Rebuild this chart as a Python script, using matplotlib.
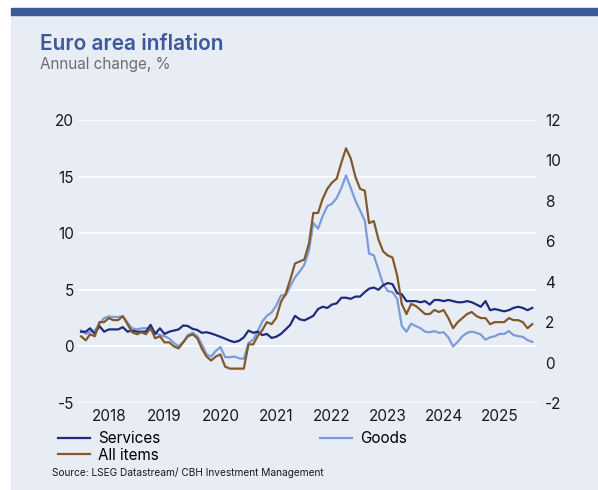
import numpy as np
import pandas as pd
import matplotlib
matplotlib.use("Agg")
import matplotlib.pyplot as plt
from matplotlib.patches import Rectangle

# monthly data, Jan 2018 - Feb 2026
start_month = "2018-01-01"

services = [
    1.3, 1.3, 1.6, 1.1, 1.8, 1.3, 1.5, 1.5, 1.5, 1.7, 1.3, 1.4,
    1.3, 1.3, 1.3, 1.9, 1.1, 1.6, 1.1, 1.3, 1.4, 1.5, 1.85, 1.8,
    1.55, 1.45, 1.2, 1.25, 1.15, 1.0, 0.85, 0.68, 0.5, 0.38, 0.5, 0.8,
    1.4, 1.2, 1.3, 1.0, 1.1, 0.75, 0.85, 1.1, 1.5, 1.9, 2.7, 2.4,
    2.3, 2.5, 2.7, 3.3, 3.5, 3.4, 3.7, 3.8, 4.3, 4.3, 4.2, 4.4,
    4.4, 4.8, 5.1, 5.2, 5.0, 5.4, 5.6, 5.5, 4.7, 4.6, 4.0, 4.0,
    4.0, 3.9, 4.0, 3.7, 4.1, 4.1, 4.0, 4.1, 4.0, 3.9, 3.9, 4.0,
    3.9, 3.7, 3.5, 4.0, 3.2, 3.3, 3.2, 3.1, 3.2, 3.4, 3.5, 3.4,
    3.2, 3.4,
]

goods = [
    1.4, 1.1, 1.3, 1.4, 2.0, 2.5, 2.65, 2.6, 2.6, 2.65, 2.1, 1.6,
    1.5, 1.6, 1.6, 1.6, 1.2, 1.0, 0.9, 0.7, 0.3, 0.0, 0.4, 1.0,
    1.2, 0.9, 0.2, -0.7, -0.9, -0.4, -0.05, -0.95, -0.95, -0.9, -1.05, -1.1,
    0.3, 0.6, 1.3, 2.2, 2.7, 3.0, 3.6, 4.5, 4.5, 5.3, 6.1, 6.6,
    7.2, 8.5, 10.9, 10.4, 11.5, 12.4, 12.6, 13.1, 14.0, 15.1, 14.0, 12.9,
    12.0, 11.1, 8.2, 8.05, 6.8, 5.5, 4.9, 4.8, 4.2, 1.8, 1.3, 2.0,
    1.8, 1.6, 1.3, 1.25, 1.35, 1.2, 1.25, 0.8, 0.0, 0.4, 0.9, 1.2,
    1.3, 1.2, 1.05, 0.6, 0.8, 0.9, 1.1, 1.1, 1.35, 1.0, 0.9, 0.85,
    0.55, 0.4,
]

# all items is read against the right-hand axis
all_items = [
    1.3, 1.1, 1.4, 1.3, 2.0, 2.0, 2.2, 2.1, 2.1, 2.3, 1.9, 1.5,
    1.4, 1.5, 1.4, 1.7, 1.2, 1.3, 1.0, 1.0, 0.8, 0.7, 1.0, 1.3,
    1.4, 1.2, 0.7, 0.3, 0.1, 0.3, 0.4, -0.2, -0.3, -0.3, -0.3, -0.3,
    0.9, 0.9, 1.3, 1.6, 2.0, 1.9, 2.2, 3.0, 3.4, 4.1, 4.9, 5.0,
    5.1, 5.9, 7.4, 7.4, 8.1, 8.6, 8.9, 9.1, 9.9, 10.6, 10.1, 9.2,
    8.6, 8.5, 6.9, 7.0, 6.1, 5.5, 5.3, 5.2, 4.3, 2.9, 2.4, 2.9,
    2.8, 2.6, 2.4, 2.4, 2.6, 2.5, 2.6, 2.2, 1.7, 2.0, 2.2, 2.4,
    2.5, 2.3, 2.2, 2.2, 1.9, 2.0, 2.0, 2.0, 2.2, 2.1, 2.1, 2.0,
    1.7, 1.9,
]

years = [2018, 2019, 2020, 2021, 2022, 2023, 2024, 2025]
left_ticks = [-5, 0, 5, 10, 15, 20]
right_ticks = [-2, 0, 2, 4, 6, 8, 10, 12]

# colours
BG = "#E8ECF5"
BAR = "#3C5A9A"
C_SERV = "#1F2C7C"
C_GOODS = "#7C9CD8"
C_ALL = "#815A2B"
TXT = "#1A1A1A"

plt.rcParams["font.family"] = ["Inter", "DejaVu Sans"]
plt.rcParams["axes.unicode_minus"] = False

dates = pd.date_range(start_month, periods=len(services), freq="MS")

W, H = 598, 490
fig = plt.figure(figsize=(W / 100, H / 100), dpi=100, facecolor="white")

# panel + top bar (behind the axes)
fig.patches.append(Rectangle((11 / W, 0), 1 - 11 / W, 1 - 15 / H,
                             transform=fig.transFigure, color=BG, zorder=-2))
fig.patches.append(Rectangle((11 / W, 1 - 15 / H), 1 - 11 / W, 7 / H,
                             transform=fig.transFigure, color=BAR, zorder=-2))

fig.text(40 / W, 1 - 49.5 / H, "Euro area inflation", fontsize=15,
         fontweight="semibold", color=BAR, va="baseline")
fig.text(40 / W, 1 - 69 / H, "Annual change, %", fontsize=11,
         color="#6E6E6E", va="baseline")

ax = fig.add_axes([78 / W, 1 - 403 / H, (537 - 78) / W, (403 - 120) / H])
ax.set_facecolor("none")
ax2 = ax.twinx()
ax2.set_facecolor("none")

l_serv, = ax.plot(dates, services, color=C_SERV, lw=1.6, label="Services", zorder=3)
l_goods, = ax.plot(dates, goods, color=C_GOODS, lw=1.6, label="Goods", zorder=2)
l_all, = ax2.plot(dates, all_items, color=C_ALL, lw=1.6, label="All items", zorder=3)

ax.set_ylim(-5, 20)
ax.set_yticks(left_ticks)
ax2.set_ylim(-2, 12)
ax2.set_yticks(right_ticks)
ax.set_xlim(pd.Timestamp("2017-12-12"), pd.Timestamp("2026-03-04"))
ax.set_xticks([pd.Timestamp(f"{y}-07-01") for y in years])
ax.set_xticklabels([str(y) for y in years])

ax.yaxis.grid(True, color="white", lw=1.1)
ax.set_axisbelow(True)
for a in (ax, ax2):
    for s in a.spines.values():
        s.set_visible(False)
ax.tick_params(axis="both", length=0, labelsize=11, colors=TXT)
ax.tick_params(axis="y", pad=3)
ax.tick_params(axis="x", pad=4)
ax2.tick_params(axis="y", length=0, labelsize=11, colors=TXT, pad=6)

fig.legend(handles=[l_serv, l_all, l_goods], ncol=2, frameon=False,
           loc="upper left", bbox_to_anchor=(58 / W, 1 - 431 / H),
           fontsize=11, handlelength=2.1, handletextpad=0.5,
           columnspacing=10.5, labelspacing=0.1, borderaxespad=0,
           borderpad=0)

fig.text(52 / W, 1 - 473 / H, "Source: LSEG Datastream/ CBH Investment Management",
         fontsize=7.3, color=TXT, va="center")

fig.savefig("out.png", dpi=100, facecolor="white")
